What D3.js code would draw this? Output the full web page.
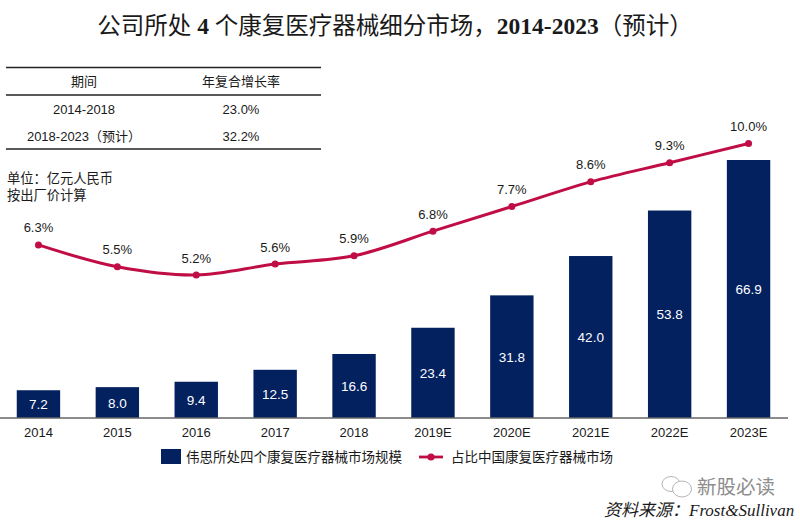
<!DOCTYPE html>
<html><head><meta charset="utf-8">
<script src="https://cdnjs.cloudflare.com/ajax/libs/d3/7.8.5/d3.min.js"></script>
<style>
html,body{margin:0;padding:0;background:#fff}
svg{display:block}
text{font-family:"Liberation Sans","Noto Sans CJK SC",sans-serif;fill:#1a1a1a}
</style></head><body>
<svg id="c" width="800" height="521"></svg>
<script>
const years=["2014","2015","2016","2017","2018","2019E","2020E","2021E","2022E","2023E"];
const marketSize=[7.2,8.0,9.4,12.5,16.6,23.4,31.8,42.0,53.8,66.9];
const sharePct=[6.3,5.5,5.2,5.6,5.9,6.8,7.7,8.6,9.3,10.0];
const tableHeader=["期间","年复合增长率"];
const tableRows=[["2014-2018","23.0%"],["2018-2023（预计）","32.2%"]];
const unitNotes=["单位：亿元人民币","按出厂价计算"];
const legendLabels=["伟思所处四个康复医疗器械市场规模","占比中国康复医疗器械市场"];
const NAVY="#03215f",RED="#c00d45";

const svg=d3.select("#c");
const baseY=418;
const x=d3.scaleBand().domain(years).range([-1,788]).paddingInner(.45).paddingOuter(.225);
const yBar=d3.scaleLinear().domain([0,66.9]).range([baseY,160]);
const yLine=d3.scaleLinear().domain([0,10]).range([417.5,143.5]);
const cx=d=>x(d)+x.bandwidth()/2;

// title
const title=svg.append("text").attr("x",395).attr("y",34).attr("text-anchor","middle").attr("font-size",23.5);
[["公司所处 ",0],["4",1],[" 个康复医疗器械细分市场，",0],["2014-2023",1],["（预计）",0]].forEach(([t,b])=>{
  const s=title.append("tspan").text(t).style("font-family",'"Liberation Serif","Noto Sans CJK SC",serif');
  if(b) s.attr("font-weight","bold");
});

// table
[67.5,95,149].forEach(y=>svg.append("line").attr("x1",6).attr("x2",321).attr("y1",y).attr("y2",y)
  .attr("stroke","#222").attr("stroke-width",1.4));
const colX=[84,241];
const rowY=[85.5,114,141];
[tableHeader,...tableRows].forEach((row,i)=>row.forEach((t,j)=>{
  svg.append("text").attr("x",colX[j]).attr("y",rowY[i]).attr("text-anchor","middle").attr("font-size",13).text(t);
}));
unitNotes.forEach((t,i)=>svg.append("text").attr("x",7).attr("y",183+i*17).attr("font-size",13.25).text(t));

// bars
svg.selectAll("rect.bar").data(years).join("rect").attr("class","bar")
  .attr("x",d=>x(d)).attr("width",x.bandwidth())
  .attr("y",(d,i)=>yBar(marketSize[i])).attr("height",(d,i)=>baseY-yBar(marketSize[i]))
  .attr("fill",NAVY);
svg.selectAll("text.bv").data(years).join("text").attr("class","bv")
  .attr("x",cx).attr("y",(d,i)=>(yBar(marketSize[i])+baseY)/2+5)
  .attr("text-anchor","middle").attr("font-size",13.5).style("fill","#fff")
  .text((d,i)=>marketSize[i].toFixed(1));

// axis
const axis=svg.append("g").attr("transform",`translate(0,${baseY})`)
  .call(d3.axisBottom(x).tickSize(0).tickPadding(9.5));
axis.select(".domain").attr("stroke","#666").attr("stroke-width",1.4).attr("d","M0,0H788");
axis.selectAll("text").attr("font-size",13).style("font-family",'"Liberation Sans",sans-serif').style("fill","#1a1a1a");

// line
const line=d3.line().x((d,i)=>cx(years[i])).y(d=>yLine(d)).curve(d3.curveCatmullRom.alpha(.5));
svg.append("path").datum(sharePct).attr("d",line).attr("fill","none").attr("stroke",RED).attr("stroke-width",3);
svg.selectAll("circle.pt").data(sharePct).join("circle").attr("class","pt")
  .attr("cx",(d,i)=>cx(years[i])).attr("cy",d=>yLine(d)).attr("r",3.5).attr("fill",RED);
svg.selectAll("text.pv").data(sharePct).join("text").attr("class","pv")
  .attr("x",(d,i)=>cx(years[i])).attr("y",d=>yLine(d)-12.5)
  .attr("text-anchor","middle").attr("font-size",13).text(d=>d.toFixed(1)+"%");

// legend
svg.append("rect").attr("x",161).attr("y",449).attr("width",20).attr("height",15).attr("fill",NAVY);
svg.append("text").attr("x",186).attr("y",462).attr("font-size",13.5).text(legendLabels[0]);
svg.append("line").attr("x1",419).attr("x2",443).attr("y1",457).attr("y2",457).attr("stroke",RED).attr("stroke-width",2.8);
svg.append("circle").attr("cx",431).attr("cy",457).attr("r",3.6).attr("fill",RED);
svg.append("text").attr("x",451).attr("y",462).attr("font-size",13.5).text(legendLabels[1]);

// watermark
const wm=svg.append("g").attr("fill","#fff").attr("stroke","#b5b5b5").attr("stroke-width",1);
wm.append("ellipse").attr("cx",671).attr("cy",484).attr("rx",9).attr("ry",7.5);
wm.append("ellipse").attr("cx",682).attr("cy",489).attr("rx",9.5).attr("ry",8);
svg.append("text").attr("x",697).attr("y",494).attr("font-size",19.5).style("fill","#8d8d8d").text("新股必读");

// source
svg.append("text").attr("x",604).attr("y",516).attr("font-size",17).attr("font-style","italic")
  .style("font-family",'"Liberation Serif","Noto Sans CJK SC",serif').text("资料来源：Frost&Sullivan");
</script></body></html>
